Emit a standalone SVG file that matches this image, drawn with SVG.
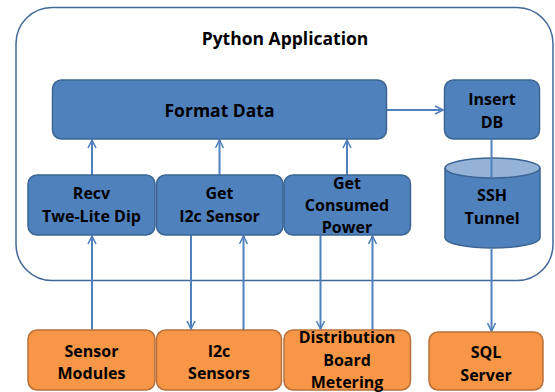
<svg xmlns="http://www.w3.org/2000/svg" width="555" height="392" viewBox="0 0 555 392">
<defs>
<marker id="ah" viewBox="0 0 10 10" refX="9" refY="5" markerWidth="10" markerHeight="10" markerUnits="userSpaceOnUse" orient="auto">
<path d="M1,1 L9,5 L1,9" fill="none" stroke="#4f81bd" stroke-width="1.6"/>
</marker>
<style>
.blue{fill:#4f81bd;stroke:#3b6594;stroke-width:1.5}
.orange{fill:#f79646;stroke:#b9703a;stroke-width:1.5}
.t{font-family:"Open Sans","Liberation Sans",sans-serif;font-weight:bold;font-size:16px;fill:#000;text-anchor:middle}
.big{font-size:17.5px}
.c{fill:none;stroke:#4f81bd;stroke-width:2}
</style>
</defs>
<rect width="555" height="392" fill="#fff"/>
<g id="app">
<rect x="16" y="7.5" width="537" height="273" rx="36" fill="#fff" stroke="#41689a" stroke-width="1.5"/>
<text class="t big" x="285" y="44.5">Python Application</text>
</g>
<g id="connectors">
<path class="c" d="M386.5,110 H443" marker-end="url(#ah)"/>
<path class="c" d="M92,175 V140" marker-end="url(#ah)"/>
<path class="c" d="M219.5,175 V140" marker-end="url(#ah)"/>
<path class="c" d="M347,175 V140" marker-end="url(#ah)"/>
<path class="c" d="M92,330 V236" marker-end="url(#ah)"/>
<path class="c" d="M191,235 V329" marker-end="url(#ah)"/>
<path class="c" d="M243.5,330 V236" marker-end="url(#ah)"/>
<path class="c" d="M320.5,235 V329" marker-end="url(#ah)"/>
<path class="c" d="M372.5,330 V236" marker-end="url(#ah)"/>
<path class="c" d="M491.5,249 V331" marker-end="url(#ah)"/>
</g>
<g id="format">
<rect class="blue" x="52.5" y="80" width="334" height="59" rx="9"/>
<text class="t big" x="219.5" y="117">Format Data</text>
</g>
<g id="insert">
<rect class="blue" x="444.5" y="80" width="95" height="59" rx="9"/>
<text class="t" x="492" y="105">Insert</text>
<text class="t" x="492" y="128">DB</text>
</g>
<g id="ssh">
<path class="blue" d="M445,168 V238 A47.5,10 0 0 0 540,238 V168"/>
<ellipse cx="492.5" cy="168" rx="47.5" ry="10" fill="#95b3d7" stroke="#3b6594" stroke-width="1.5"/>
<text class="t" x="492" y="201">SSH</text>
<text class="t" x="492" y="224">Tunnel</text>
</g>
<path class="c" d="M491.5,139 V178"/>
<g id="recv">
<rect class="blue" x="28" y="175" width="127" height="60" rx="9"/>
<text class="t" x="91.5" y="199">Recv</text>
<text class="t" x="91.5" y="222">Twe-Lite Dip</text>
</g>
<g id="geti2c">
<rect class="blue" x="156.5" y="175" width="126.5" height="60" rx="9"/>
<text class="t" x="219.5" y="199">Get</text>
<text class="t" x="219.5" y="222">I2c Sensor</text>
</g>
<g id="getpower">
<rect class="blue" x="284" y="175" width="126.5" height="60" rx="9"/>
<text class="t" x="347" y="189">Get</text>
<text class="t" x="347" y="211">Consumed</text>
<text class="t" x="347" y="233">Power</text>
</g>
<g id="sensors">
<rect class="orange" x="28" y="330" width="127" height="60" rx="9"/>
<text class="t" x="91.5" y="357">Sensor</text>
<text class="t" x="91.5" y="379">Modules</text>
</g>
<g id="i2csensors">
<rect class="orange" x="156.5" y="330" width="125" height="60" rx="9"/>
<text class="t" x="219" y="357">I2c</text>
<text class="t" x="219" y="379">Sensors</text>
</g>
<g id="distribution">
<rect class="orange" x="284" y="330" width="126.5" height="60" rx="9"/>
<text class="t" x="347" y="343">Distribution</text>
<text class="t" x="347" y="366">Board</text>
<text class="t" x="347" y="387.5">Metering</text>
</g>
<g id="sql">
<rect class="orange" x="429" y="332" width="114" height="58" rx="9"/>
<text class="t" x="486" y="358">SQL</text>
<text class="t" x="486" y="381">Server</text>
</g>
</svg>
